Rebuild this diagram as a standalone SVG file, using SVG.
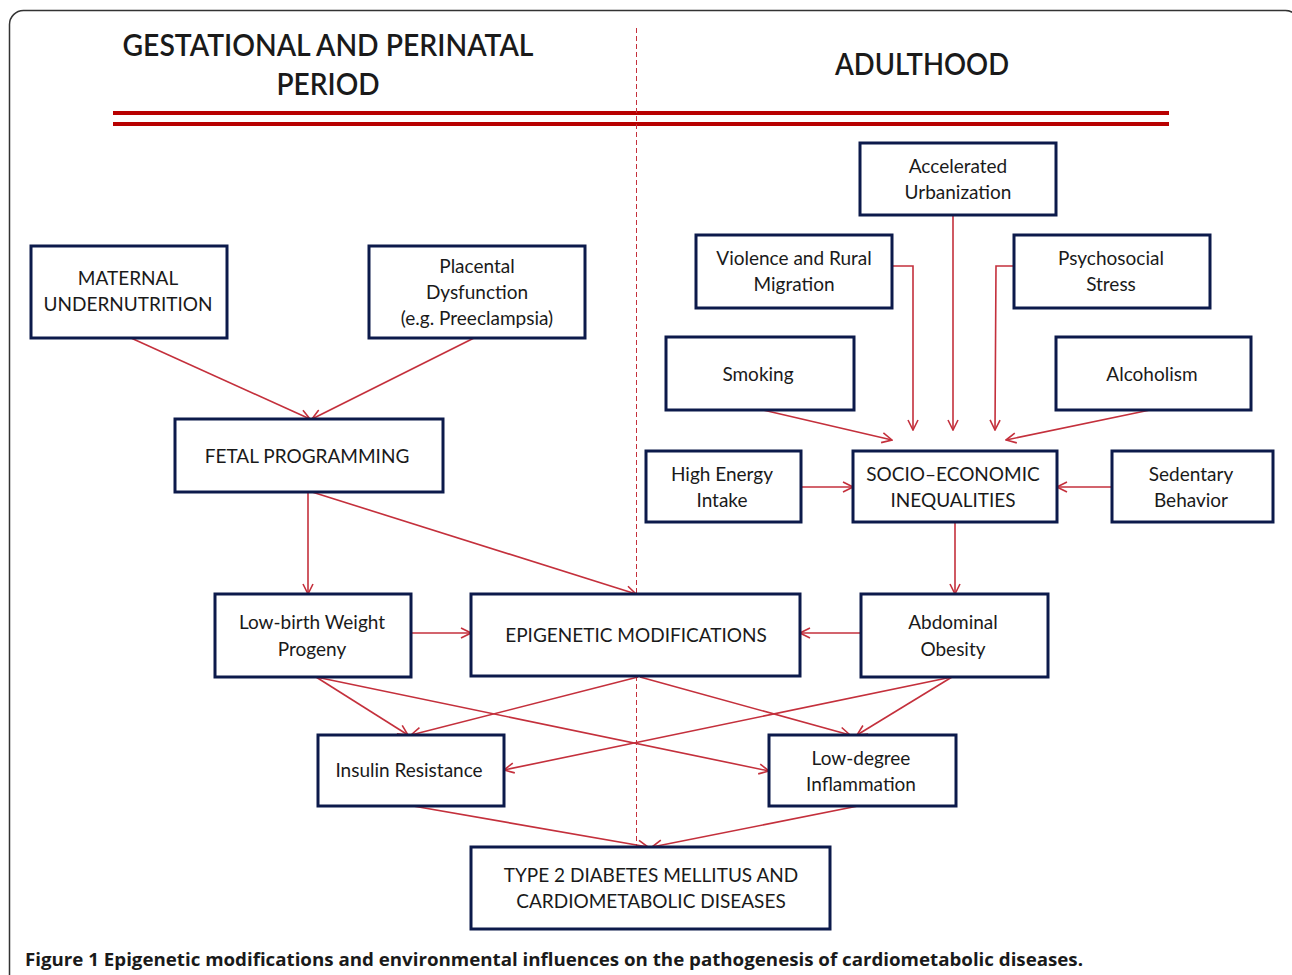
<svg xmlns="http://www.w3.org/2000/svg" width="1292" height="975" viewBox="0 0 1292 975">
<defs>
<style>
.box{fill:#fff;stroke:#0c1a4b;stroke-width:3}
.t{font-family:Lato,"Open Sans","Liberation Sans",sans-serif;font-size:19px;fill:#1a1a1a;text-anchor:middle}
.h{font-family:Lato,"Open Sans","Liberation Sans",sans-serif;font-size:30px;font-weight:600;fill:#1a1a1a;text-anchor:middle}
.c{fill:none;stroke:#c4303c;stroke-width:1.6}
</style>
<marker id="ah" viewBox="0 0 12 12" refX="11" refY="6" markerWidth="12" markerHeight="12" markerUnits="userSpaceOnUse" orient="auto">
<path d="M1,1 L11,6 L1,11" fill="none" stroke="#c4303c" stroke-width="1.6"/>
</marker>
</defs>
<rect x="0" y="0" width="1292" height="975" fill="#fff"/>
<rect x="9.5" y="10.5" width="1290" height="990" rx="14" fill="#fff" stroke="#333" stroke-width="1.5"/>
<g id="header">
<text class="h" x="328" y="56" textLength="411" lengthAdjust="spacingAndGlyphs">GESTATIONAL AND PERINATAL</text>
<text class="h" x="328" y="95" textLength="103" lengthAdjust="spacingAndGlyphs">PERIOD</text>
<text class="h" x="922" y="75" textLength="174" lengthAdjust="spacingAndGlyphs">ADULTHOOD</text>
<rect x="113" y="111" width="1056" height="4" fill="#b80000"/>
<rect x="113" y="122" width="1056" height="4" fill="#b80000"/>
<line x1="636.5" y1="28" x2="636.5" y2="850" stroke="#c4303c" stroke-width="1" stroke-dasharray="5,3"/>
</g>
<g id="connectors">
<line class="c" x1="131" y1="338" x2="310" y2="419" marker-end="url(#ah)"/>
<line class="c" x1="474" y1="338" x2="312" y2="419" marker-end="url(#ah)"/>
<line class="c" x1="308" y1="492" x2="308" y2="594" marker-end="url(#ah)"/>
<line class="c" x1="312" y1="492" x2="636" y2="594" marker-end="url(#ah)"/>
<line class="c" x1="953" y1="215" x2="953" y2="430" marker-end="url(#ah)"/>
<polyline class="c" points="892,266 913,266 913,430" marker-end="url(#ah)"/>
<polyline class="c" points="1014,266 996,266 995,430" marker-end="url(#ah)"/>
<line class="c" x1="763" y1="410" x2="892" y2="440" marker-end="url(#ah)"/>
<line class="c" x1="1150" y1="410" x2="1006" y2="440" marker-end="url(#ah)"/>
<line class="c" x1="801" y1="487" x2="853" y2="487" marker-end="url(#ah)"/>
<line class="c" x1="1112" y1="487" x2="1057" y2="487" marker-end="url(#ah)"/>
<line class="c" x1="955" y1="522" x2="955" y2="594" marker-end="url(#ah)"/>
<line class="c" x1="411" y1="633" x2="471" y2="633" marker-end="url(#ah)"/>
<line class="c" x1="861" y1="633" x2="800" y2="633" marker-end="url(#ah)"/>
<line class="c" x1="316" y1="677" x2="408" y2="735" marker-end="url(#ah)"/>
<line class="c" x1="316" y1="677" x2="769" y2="771" marker-end="url(#ah)"/>
<line class="c" x1="638" y1="677" x2="411" y2="735" marker-end="url(#ah)"/>
<line class="c" x1="640" y1="677" x2="850" y2="735" marker-end="url(#ah)"/>
<line class="c" x1="952" y1="677" x2="504" y2="770" marker-end="url(#ah)"/>
<line class="c" x1="952" y1="677" x2="857" y2="735" marker-end="url(#ah)"/>
<line class="c" x1="413" y1="806" x2="648" y2="847" marker-end="url(#ah)"/>
<line class="c" x1="858" y1="806" x2="652" y2="847" marker-end="url(#ah)"/>
</g>
<g id="maternal"><rect class="box" x="31" y="246" width="196" height="92"/><text class="t" x="128" y="285">MATERNAL</text><text class="t" x="128" y="311">UNDERNUTRITION</text></g>
<g id="placental"><rect class="box" x="369" y="246" width="216" height="92"/><text class="t" x="477" y="273">Placental</text><text class="t" x="477" y="299">Dysfunction</text><text class="t" x="477" y="325">(e.g. Preeclampsia)</text></g>
<g id="fetal"><rect class="box" x="175" y="419" width="268" height="73"/><text class="t" x="307" y="463">FETAL PROGRAMMING</text></g>
<g id="urbanization"><rect class="box" x="860" y="143" width="196" height="72"/><text class="t" x="958" y="173">Accelerated</text><text class="t" x="958" y="199">Urbanization</text></g>
<g id="violence"><rect class="box" x="696" y="235" width="196" height="73"/><text class="t" x="794" y="265">Violence and Rural</text><text class="t" x="794" y="291">Migration</text></g>
<g id="psychosocial"><rect class="box" x="1014" y="235" width="196" height="73"/><text class="t" x="1111" y="265">Psychosocial</text><text class="t" x="1111" y="291">Stress</text></g>
<g id="smoking"><rect class="box" x="666" y="337" width="188" height="73"/><text class="t" x="758" y="381">Smoking</text></g>
<g id="alcoholism"><rect class="box" x="1056" y="337" width="195" height="73"/><text class="t" x="1152" y="381">Alcoholism</text></g>
<g id="highenergy"><rect class="box" x="646" y="451" width="155" height="71"/><text class="t" x="722" y="481">High Energy</text><text class="t" x="722" y="507">Intake</text></g>
<g id="socioeconomic"><rect class="box" x="853" y="451" width="204" height="71"/><text class="t" x="953" y="481">SOCIO–ECONOMIC</text><text class="t" x="953" y="507">INEQUALITIES</text></g>
<g id="sedentary"><rect class="box" x="1112" y="451" width="161" height="71"/><text class="t" x="1191" y="481">Sedentary</text><text class="t" x="1191" y="507">Behavior</text></g>
<g id="lowbirth"><rect class="box" x="215" y="594" width="196" height="83"/><text class="t" x="312" y="629">Low-birth Weight</text><text class="t" x="312" y="656">Progeny</text></g>
<g id="epigenetic"><rect class="box" x="471" y="594" width="329" height="82"/><text class="t" x="636" y="642">EPIGENETIC MODIFICATIONS</text></g>
<g id="abdominal"><rect class="box" x="861" y="594" width="187" height="83"/><text class="t" x="953" y="629">Abdominal</text><text class="t" x="953" y="656">Obesity</text></g>
<g id="insulin"><rect class="box" x="318" y="735" width="186" height="71"/><text class="t" x="409" y="777">Insulin Resistance</text></g>
<g id="lowdegree"><rect class="box" x="769" y="735" width="187" height="71"/><text class="t" x="861" y="765">Low-degree</text><text class="t" x="861" y="791">Inflammation</text></g>
<g id="diabetes"><rect class="box" x="471" y="847" width="359" height="82"/><text class="t" x="651" y="882">TYPE 2 DIABETES MELLITUS AND</text><text class="t" x="651" y="908">CARDIOMETABOLIC DISEASES</text></g>
<g id="caption"><text x="25" y="966" font-family="'Open Sans','Liberation Sans',sans-serif" font-size="18" font-weight="bold" fill="#1a1a1a" textLength="1058" lengthAdjust="spacingAndGlyphs">Figure 1 Epigenetic modifications and environmental influences on the pathogenesis of cardiometabolic diseases.</text></g>
</svg>
